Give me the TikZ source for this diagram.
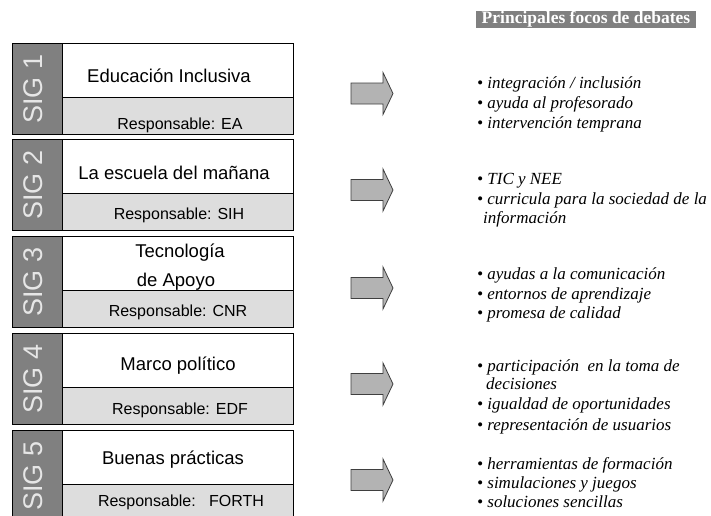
\documentclass[tikz,border=0pt]{standalone}
\usepackage{fontspec}
\setmainfont{Liberation Serif}
\setsansfont{Liberation Sans}
\definecolor{sidegray}{HTML}{808080}
\definecolor{lowgray}{HTML}{DDDDDD}
\definecolor{arrowgray}{HTML}{B3B3B3}
\definecolor{arrowline}{HTML}{3F3F3F}
\definecolor{sigtext}{HTML}{E6E6E6}
\begin{document}
\begin{tikzpicture}[x=1pt,y=-1pt,
  sidebox/.style={draw=black, line width=0.8pt, fill=sidegray, minimum width=50pt, minimum height=91pt, anchor=north west, inner sep=0pt},
  topbox/.style={draw=black, line width=0.8pt, fill=white, minimum width=231pt, minimum height=54pt, anchor=north west, inner sep=0pt},
  lowbox/.style={draw=black, line width=0.8pt, fill=lowgray, minimum width=231pt, minimum height=37pt, anchor=north west, inner sep=0pt},
  siglabel/.style={rotate=90, anchor=base, text=sigtext, font=\sffamily\fontsize{27}{27}\selectfont, inner sep=0pt},
  titletext/.style={anchor=base, font=\sffamily\fontsize{18.5}{22}\selectfont, inner sep=0pt},
  resptext/.style={anchor=base, font=\sffamily\fontsize{16}{19}\selectfont, inner sep=0pt},
  bullettext/.style={anchor=base west, font=\itshape\fontsize{17}{20}\selectfont, inner sep=0pt},
  blockarrow/.style={draw=arrowline, fill=arrowgray, line width=0.8pt, line join=miter},
  banner/.style={fill=sidegray, text=white, font=\bfseries\fontsize{17.5}{18}\selectfont, minimum width=220pt, minimum height=16pt, inner sep=0pt}
]
\useasboundingbox (0,0) rectangle (711,515);

% boxes
\foreach \i/\t in {1/43, 2/139, 3/236, 4/333, 5/430}{
  \node[topbox] (t\i) at (62,\t) {};
  \node[lowbox] (r\i) at (62,\t+54) {};
  \node[sidebox] (s\i) at (12,\t) {};
  \node[siglabel] (g\i) at (42,\t+46) {SIG \i};
}

% box titles
\node[titletext] (n1) at (169,82) {Educación Inclusiva};
\node[titletext] (n2) at (174,179) {La escuela del mañana};
\node[titletext] (n3a) at (180,257) {Tecnología};
\node[titletext] (n3b) at (176,286) {de Apoyo};
\node[titletext] (n4) at (178,370) {Marco político};
\node[titletext] (n5) at (173,464) {Buenas prácticas};

% responsables
\node[resptext] (p1) at (180,129) {Responsable: EA};
\node[resptext] (p2) at (179,219) {Responsable: SIH};
\node[resptext] (p3) at (178,316) {Responsable: CNR};
\node[resptext] (p4) at (180,414) {Responsable: EDF};
\node[resptext] (p5) at (181,506) {Responsable:\ \ \ FORTH};

% block arrows
\foreach \c in {93.5, 190, 288, 384, 480}{
  \draw[blockarrow] (351,\c-10.5) -- (383,\c-10.5) -- (383,\c-21) -- (393,\c) -- (383,\c+21) -- (383,\c+10.5) -- (351,\c+10.5) -- cycle;
}

% banner
\node[banner] (head) at (586,19.5) {Principales focos de debates};

% bullets
\node[bullettext] (b11) at (477,88) {• integración / inclusión};
\node[bullettext] (b12) at (477,108) {• ayuda al profesorado};
\node[bullettext] (b13) at (477,128) {• intervención temprana};

\node[bullettext] (b21) at (477,184) {• TIC y NEE};
\node[bullettext] (b22) at (477,204) {• curricula para la sociedad de la};
\node[bullettext] (b23) at (483,223) {información};

\node[bullettext] (b31) at (477,279) {• ayudas a la comunicación};
\node[bullettext] (b32) at (477,299) {• entornos de aprendizaje};
\node[bullettext] (b33) at (477,318) {• promesa de calidad};

\node[bullettext] (b41) at (477,371) {• participación \ en la toma de};
\node[bullettext] (b42) at (486,389) {decisiones};
\node[bullettext] (b43) at (477,409) {• igualdad de oportunidades};
\node[bullettext] (b44) at (477,430) {• representación de usuarios};

\node[bullettext] (b51) at (477,469) {• herramientas de formación};
\node[bullettext] (b52) at (477,488) {• simulaciones y juegos};
\node[bullettext] (b53) at (477,507) {• soluciones sencillas};
\end{tikzpicture}
\end{document}
